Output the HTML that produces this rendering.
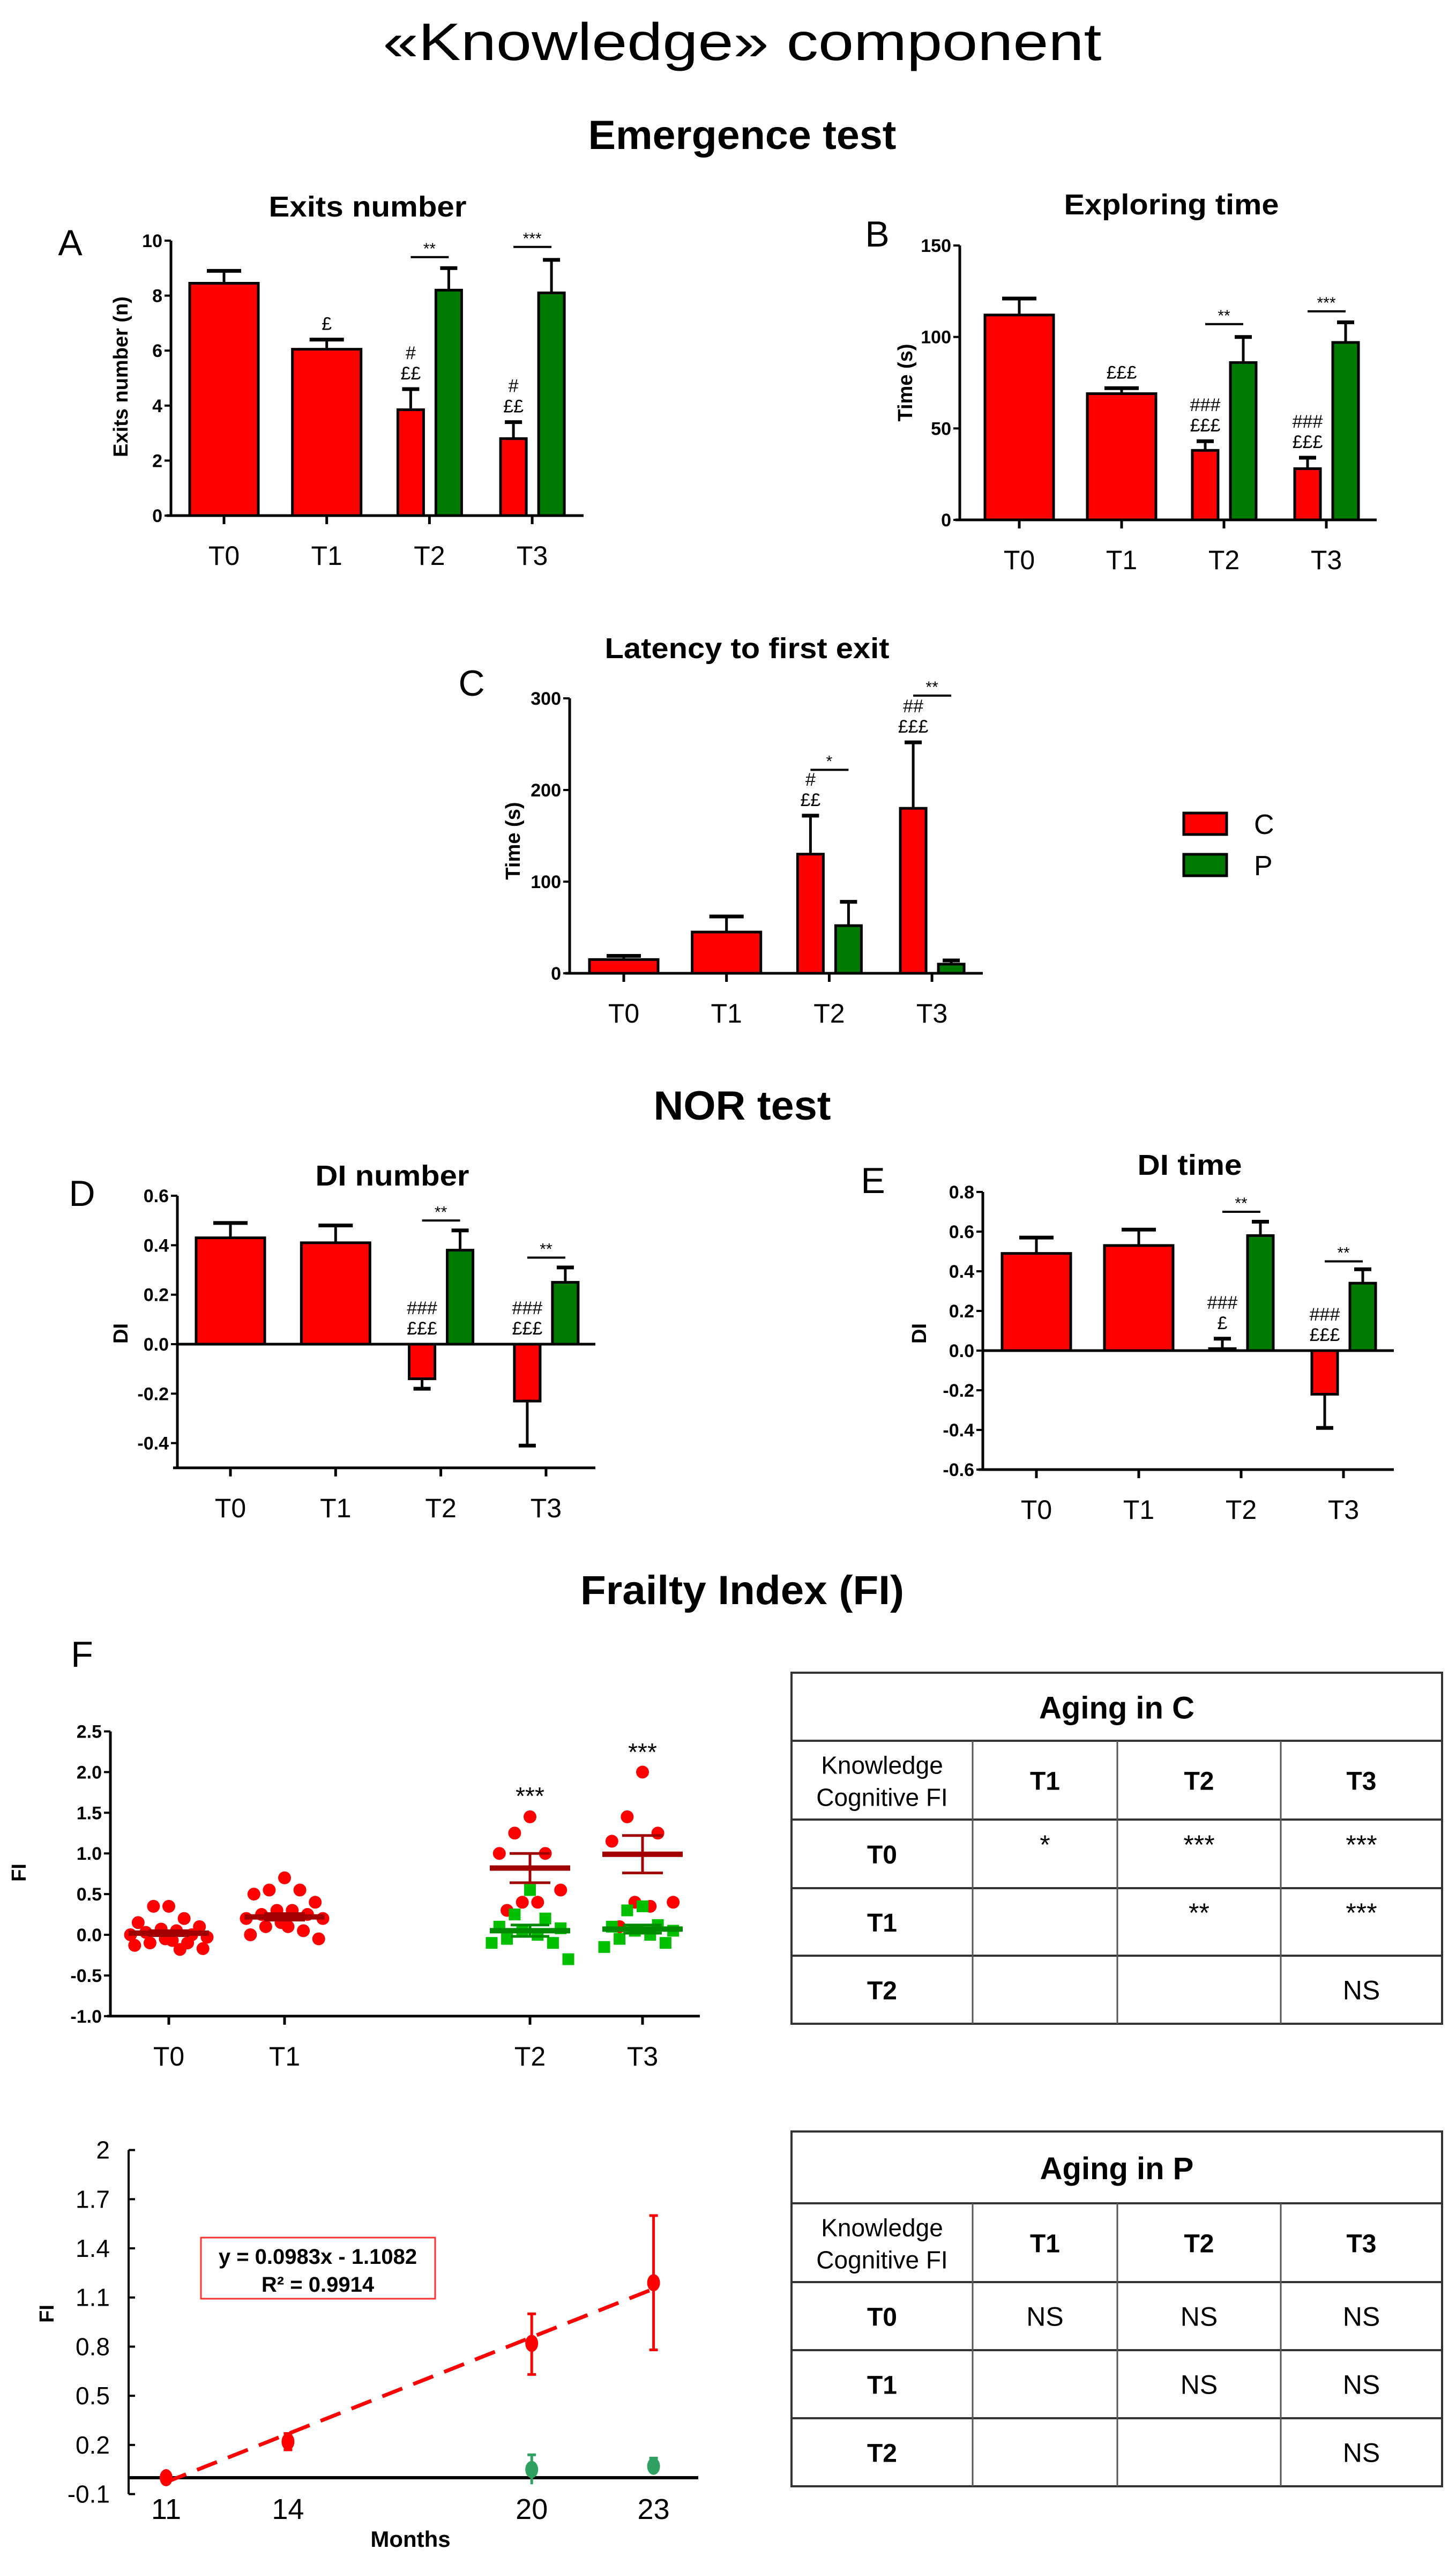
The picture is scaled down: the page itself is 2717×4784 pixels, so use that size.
<!DOCTYPE html>
<html><head><meta charset="utf-8"><title>Knowledge component</title>
<style>
html,body{margin:0;padding:0;background:#fff;}
svg{display:block;}
text{font-family:"Liberation Sans",sans-serif;}
</style></head>
<body>
<svg id="fig" xmlns="http://www.w3.org/2000/svg" width="2717" height="4784" viewBox="0 0 2717 4784">
<rect x="0" y="0" width="2717" height="4784" fill="#fff"/>
</svg>
<script>
// ---------- DATA ----------
const barCategories = ['T0','T1','T2','T3'];

const exitsC = [8.45, 6.05, 3.85, 2.8];
const exitsCErr = [0.45, 0.35, 0.75, 0.6];
const exitsP = [null, null, 8.2, 8.1];
const exitsPErr = [null, null, 0.8, 1.2];
const exitsTicks = [0, 2, 4, 6, 8, 10];
const exitsSigLevel = [null, null, 9.4, 9.77];
const exitsSigText = [null, null, '**', '***'];
const exitsAnnot = [[], ['£'], ['££', '#'], ['££', '#']];

const exploreC = [112, 69, 38, 28];
const exploreCErr = [9, 3, 5, 6];
const exploreP = [null, null, 86, 97];
const explorePErr = [null, null, 14, 11];
const exploreTicks = [0, 50, 100, 150];
const exploreSigLevel = [null, null, 107, 114];
const exploreSigText = [null, null, '**', '***'];
const exploreAnnot = [[], ['£££'], ['£££', '###'], ['£££', '###']];

const latencyC = [15, 45, 130, 180];
const latencyCErr = [4, 17, 42, 72];
const latencyP = [null, null, 52, 10];
const latencyPErr = [null, null, 26, 4];
const latencyTicks = [0, 100, 200, 300];
const latencySigLevel = [null, null, 222, 303];
const latencySigText = [null, null, '*', '**'];
const latencyAnnot = [[], [], ['££', '#'], ['£££', '##']];

const dinC = [0.43, 0.41, -0.14, -0.23];
const dinCErr = [0.06, 0.07, 0.04, 0.18];
const dinP = [null, null, 0.38, 0.25];
const dinPErr = [null, null, 0.08, 0.06];
const dinTicks = [-0.4, -0.2, 0.0, 0.2, 0.4, 0.6];
const dinSigLevel = [null, null, 0.5, 0.35];
const dinSigText = [null, null, '**', '**'];
const dinAnnot = [[], [], ['£££', '###'], ['£££', '###']];

const ditC = [0.49, 0.53, 0.01, -0.22];
const ditCErr = [0.08, 0.08, 0.05, 0.17];
const ditP = [null, null, 0.58, 0.34];
const ditPErr = [null, null, 0.07, 0.07];
const ditTicks = [-0.6, -0.4, -0.2, 0.0, 0.2, 0.4, 0.6, 0.8];
const ditSigLevel = [null, null, 0.70, 0.45];
const ditSigText = [null, null, '**', '**'];
const ditAnnot = [[], [], ['£', '###'], ['£££', '###']];

// scatter (FI)
const fiCategories = ['T0','T1','T2','T3'];
const fiPointsC = [
  [0.35,0.35,0.2,0.15,0.1,0.07,0.05,0.03,0,0,-0.03,-0.05,-0.07,-0.1,-0.1,-0.13,-0.17,-0.18],
  [0.7,0.55,0.55,0.5,0.4,0.3,0.3,0.25,0.25,0.2,0.2,0.15,0.1,0.1,0.05,0.0,-0.05],
  [1.45,1.25,1.0,1.0,0.55,0.4,0.4,0.3],
  [2.0,1.45,1.25,1.15,0.4,0.4,0.35,0.1]
];
const fiPointsP = [
  [],
  [],
  [0.55,0.25,0.2,0.1,0.08,0.05,0,-0.05,-0.1,-0.1,-0.3],
  [0.35,0.3,0.12,0.1,0.05,0.05,0,-0.05,-0.1,-0.15]
];
const fiMeanC = [0.02, 0.22, 0.82, 0.99];
const fiSemC = [0.03, 0.04, 0.18, 0.23];
const fiMeanP = [null, null, 0.05, 0.07];
const fiSemP = [null, null, 0.07, 0.05];
const fiTicks = [-1.0, -0.5, 0.0, 0.5, 1.0, 1.5, 2.0, 2.5];
const fiSigText = [null, null, '***', '***'];
const fiSigLevel = [null, null, 1.72, 2.26];

// line chart
const months = [11, 14, 20, 23];
const lineFiC = [0.0, 0.22, 0.82, 1.19];
const lineErrHiC = [0.03, 0.05, 0.18, 0.41];
const lineErrLoC = [0.03, 0.05, 0.19, 0.41];
const monthsP = [20, 23];
const lineFiP = [0.05, 0.07];
const lineErrP = [0.09, 0.05];
const lineTicks = [-0.1, 0.2, 0.5, 0.8, 1.1, 1.4, 1.7, 2];
const trendSlope = 0.0983;
const trendIntercept = -1.1082;

// tables
const tableCols = ['T1','T2','T3'];
const tableRows = ['T0','T1','T2'];
const agingC = [['*','***','***'],['','**','***'],['','','NS']];
const agingP = [['NS','NS','NS'],['','NS','NS'],['','','NS']];

// ---------- DRAWING ----------
const NS = 'http://www.w3.org/2000/svg';
const svg = document.getElementById('fig');
const RED = '#ff0000', GREEN = '#007a00';

function mk(tag, attrs, name, parent) {
  const el = document.createElementNS(NS, tag);
  for (const k in attrs) el.setAttribute(k, attrs[k]);
  
  
  (parent || svg).appendChild(el);
  return el;
}
function txt(x, y, s, size, name, opts, parent) {
  opts = opts || {};
  const a = {x: x, y: y, 'font-size': size, 'text-anchor': opts.anchor || 'middle', fill: opts.fill || '#000'};
  if (opts.bold) a['font-weight'] = 'bold';
  if (opts.len) { a.textLength = opts.len; a.lengthAdjust = 'spacingAndGlyphs'; }
  if (opts.family) a['font-family'] = opts.family;
  if (opts.transform) a.transform = opts.transform;
  const t = mk('text', a, name, parent);
  t.textContent = s;
  return t;
}
function line(x1, y1, x2, y2, w, name, parent, color, dash) {
  const a = {x1: x1, y1: y1, x2: x2, y2: y2, stroke: color || '#000', 'stroke-width': w};
  if (dash) a['stroke-dasharray'] = dash;
  return mk('line', a, name, parent);
}

// Titles
txt(1385, 112, '«Knowledge» component', 98, 'main-title', {len: 1341});
txt(1385, 278, 'Emergence test', 76, 'emergence-test-heading', {bold: true, len: 575});
txt(1385, 2089, 'NOR test', 76, 'nor-test-heading', {bold: true, len: 331});
txt(1385, 2993, 'Frailty Index (FI)', 76, 'frailty-index-heading', {bold: true, len: 604});

function barChart(cfg) {
  const g = mk('g', {}, cfg.name);
  const y = v => cfg.y0 - v * cfg.ppu;
  const xc = i => cfg.tick0 + i * cfg.step;
  const yMin = cfg.ticks[0], yMax = cfg.ticks[cfg.ticks.length - 1];
  const bottom = cfg.bottomVal !== undefined ? y(cfg.bottomVal) : y(yMin);
  txt(cfg.panelX, cfg.panelY, cfg.panel, 68, 'panel-label', {}, g);
  txt(cfg.titleX, cfg.titleY, cfg.title, 54, 'chart-title', {bold: true, len: cfg.titleLen}, g);
  txt(0, 0, cfg.ylabel, 38, 'y-axis-title', {bold: true, transform: 'translate(' + cfg.ylabelX + ',' + cfg.ylabelY + ') rotate(-90)'}, g);
  // bars
  for (let i = 0; i < barCategories.length; i++) {
    const c = xc(i);
    const hasP = cfg.p[i] !== null;
    const w = hasP ? 48 : 128;
    const cx = hasP ? c - 35 : c;
    const series = [[cfg.c[i], cfg.cErr[i], cx, RED, 'bar-c-' + barCategories[i]]];
    if (hasP) series.push([cfg.p[i], cfg.pErr[i], c + 36, GREEN, 'bar-p-' + barCategories[i]]);
    let cTop = null;
    series.forEach(s => {
      const v = s[0], e = s[1], bx = s[2];
      const top = Math.min(y(v), y(0)), h = Math.abs(y(v) - y(0));
      mk('rect', {x: bx - w / 2, y: top, width: w, height: Math.max(h, 1), fill: s[3], stroke: '#000', 'stroke-width': 5}, s[4], g);
      const dir = v >= 0 ? 1 : -1;
      const ye = y(v + dir * e);
      line(bx, y(v), bx, ye, 5, 'error-bar', g);
      line(bx - (hasP ? 16 : 32), ye, bx + (hasP ? 16 : 32), ye, 7, 'error-cap', g);
      if (s[3] === RED) cTop = Math.min(ye, y(0), y(v));
    });
    // annotations
    const ann = cfg.annot[i];
    for (let k = 0; k < ann.length; k++) {
      txt(cx, cTop - 18 - k * 38, ann[k], 34, 'annotation', {family: '"Liberation Serif",serif'}, g);
    }
    // significance
    if (cfg.sigLevel[i] !== null) {
      const sy = y(cfg.sigLevel[i]);
      line(c - 35, sy, c + 36, sy, 4, 'significance-line', g);
      txt(c, sy - 6, cfg.sigText[i], 30, 'significance-stars', {}, g);
    }
    // x tick + label
    line(c, bottom, c, bottom + 16, 5, 'x-tick', g);
    txt(c, bottom + 92, barCategories[i], 50, 'x-tick-label', {}, g);
  }
  // axes
  line(cfg.axisX, y(yMax), cfg.axisX, bottom, 5, 'y-axis', g);
  line(cfg.axisX - 8, bottom, cfg.axisEnd, bottom, 5, 'x-axis', g);
  if (cfg.bottomVal !== undefined || yMin < 0) line(cfg.axisX, y(0), cfg.axisEnd, y(0), 5, 'zero-line', g);
  cfg.ticks.forEach(t => {
    line(cfg.axisX - 12, y(t), cfg.axisX, y(t), 4, 'y-tick', g);
    txt(cfg.axisX - 16, y(t) + 12, cfg.fmt ? t.toFixed(1) : String(t), 34, 'y-tick-label', {anchor: 'end', bold: true}, g);
  });
}

barChart({name: 'exits-number-chart', panel: 'A', panelX: 131, panelY: 476, title: 'Exits number', titleX: 686, titleY: 404, titleLen: 369,
  ylabel: 'Exits number (n)', ylabelX: 238, ylabelY: 703,
  c: exitsC, cErr: exitsCErr, p: exitsP, pErr: exitsPErr, ticks: exitsTicks, sigLevel: exitsSigLevel, sigText: exitsSigText, annot: exitsAnnot,
  y0: 962, ppu: 51.3, tick0: 418, step: 191.7, axisX: 319, axisEnd: 1089});

barChart({name: 'exploring-time-chart', panel: 'B', panelX: 1637, panelY: 460, title: 'Exploring time', titleX: 2186, titleY: 400, titleLen: 401,
  ylabel: 'Time (s)', ylabelX: 1702, ylabelY: 714,
  c: exploreC, cErr: exploreCErr, p: exploreP, pErr: explorePErr, ticks: exploreTicks, sigLevel: exploreSigLevel, sigText: exploreSigText, annot: exploreAnnot,
  y0: 970, ppu: 3.413, tick0: 1902, step: 191, axisX: 1791, axisEnd: 2569});

barChart({name: 'latency-chart', panel: 'C', panelX: 880, panelY: 1298, title: 'Latency to first exit', titleX: 1394, titleY: 1228, titleLen: 531,
  ylabel: 'Time (s)', ylabelX: 970, ylabelY: 1569,
  c: latencyC, cErr: latencyCErr, p: latencyP, pErr: latencyPErr, ticks: latencyTicks, sigLevel: latencySigLevel, sigText: latencySigText, annot: latencyAnnot,
  y0: 1816, ppu: 1.71, tick0: 1164, step: 191.7, axisX: 1063, axisEnd: 1834});

barChart({name: 'di-number-chart', panel: 'D', panelX: 153, panelY: 2250, title: 'DI number', titleX: 732, titleY: 2212, titleLen: 287,
  ylabel: 'DI', ylabelX: 238, ylabelY: 2488, fmt: true, bottomVal: -0.5,
  c: dinC, cErr: dinCErr, p: dinP, pErr: dinPErr, ticks: dinTicks, sigLevel: dinSigLevel, sigText: dinSigText, annot: dinAnnot,
  y0: 2508, ppu: 461.5, tick0: 430, step: 196.3, axisX: 331, axisEnd: 1111});

barChart({name: 'di-time-chart', panel: 'E', panelX: 1629, panelY: 2226, title: 'DI time', titleX: 2220, titleY: 2192, titleLen: 195,
  ylabel: 'DI', ylabelX: 1728, ylabelY: 2488, fmt: true,
  c: ditC, cErr: ditCErr, p: ditP, pErr: ditPErr, ticks: ditTicks, sigLevel: ditSigLevel, sigText: ditSigText, annot: ditAnnot,
  y0: 2520, ppu: 370, tick0: 1934, step: 191, axisX: 1834, axisEnd: 2601});

// Legend
const lg = mk('g', {}, 'legend');
mk('rect', {x: 2209, y: 1517, width: 80, height: 40, fill: RED, stroke: '#000', 'stroke-width': 5}, 'legend-swatch-c', lg);
txt(2340, 1556, 'C', 52, 'legend-label-c', {anchor: 'start'}, lg);
mk('rect', {x: 2209, y: 1594, width: 80, height: 40, fill: GREEN, stroke: '#000', 'stroke-width': 5}, 'legend-swatch-p', lg);
txt(2340, 1633, 'P', 52, 'legend-label-p', {anchor: 'start'}, lg);

// ---------- FI scatter ----------
(function () {
  const g = mk('g', {}, 'fi-scatter-chart');
  txt(153, 3110, 'F', 68, 'panel-label', {}, g);
  const y0 = 3610, ppu = 151.8;
  const y = v => y0 - v * ppu;
  const fiX = [315, 531, 989, 1199];
  const jit = [0, -22, 22, -44, 44, -11, 11, -33, 33, -55, 55, -5, 5, -27, 27, -49, 49, 16];
  line(206, y(2.5), 206, y(-1.0), 5, 'y-axis', g);
  line(200, y(-1.0), 1306, y(-1.0), 5, 'x-axis', g);
  fiTicks.forEach(t => {
    line(194, y(t), 206, y(t), 4, 'y-tick', g);
    txt(190, y(t) + 12, t.toFixed(1), 34, 'y-tick-label', {anchor: 'end', bold: true}, g);
  });
  txt(0, 0, 'FI', 38, 'y-axis-title', {bold: true, transform: 'translate(48,3494) rotate(-90)'}, g);
  for (let i = 0; i < fiCategories.length; i++) {
    const cx = fiX[i];
    line(cx, y(-1.0), cx, y(-1.0) + 16, 5, 'x-tick', g);
    txt(cx, y(-1.0) + 92, fiCategories[i], 50, 'x-tick-label', {}, g);
    fiPointsC[i].forEach((v, k) => {
      mk('circle', {cx: cx + jit[k % jit.length] * 1.3, cy: y(v), r: 12, fill: RED}, 'point-c', g);
    });
    fiPointsP[i].forEach((v, k) => {
      mk('rect', {x: cx + jit[k % jit.length] * 1.3 - 11, y: y(v) - 11, width: 22, height: 22, fill: '#00c000'}, 'point-p', g);
    });
    if (fiMeanP[i] !== null) {
      line(cx - 75, y(fiMeanP[i]), cx + 75, y(fiMeanP[i]), 10, 'mean-line-p', g, '#008a00');
      line(cx, y(fiMeanP[i] + fiSemP[i]), cx, y(fiMeanP[i] - fiSemP[i]), 5, 'sem-bar-p', g, '#008a00');
      line(cx - 36, y(fiMeanP[i] + fiSemP[i]), cx + 36, y(fiMeanP[i] + fiSemP[i]), 5, 'sem-cap-p', g, '#008a00');
      line(cx - 36, y(fiMeanP[i] - fiSemP[i]), cx + 36, y(fiMeanP[i] - fiSemP[i]), 5, 'sem-cap-p', g, '#008a00');
    }
    const mc = '#a00000';
    line(cx - 75, y(fiMeanC[i]), cx + 75, y(fiMeanC[i]), 10, 'mean-line-c', g, mc);
    line(cx, y(fiMeanC[i] + fiSemC[i]), cx, y(fiMeanC[i] - fiSemC[i]), 5, 'sem-bar-c', g, mc);
    line(cx - 38, y(fiMeanC[i] + fiSemC[i]), cx + 38, y(fiMeanC[i] + fiSemC[i]), 5, 'sem-cap-c', g, mc);
    line(cx - 38, y(fiMeanC[i] - fiSemC[i]), cx + 38, y(fiMeanC[i] - fiSemC[i]), 5, 'sem-cap-c', g, mc);
    if (fiSigText[i]) txt(cx, y(fiSigLevel[i]) + 18, fiSigText[i], 46, 'significance-stars', {}, g);
  }
})();

// ---------- FI vs months line chart ----------
(function () {
  const g = mk('g', {}, 'fi-months-chart');
  const yZ = 4623, ppu = 305.7;
  const y = v => yZ - v * ppu;
  const x = m => 310 + (m - 11) * 75.8;
  line(240, y(2), 240, y(-0.1), 4, 'y-axis', g);
  line(240, y(0), 1303, y(0), 6, 'x-axis', g);
  lineTicks.forEach(t => {
    line(240, y(t), 252, y(t), 4, 'y-tick', g);
    txt(205, y(t) + 16, String(t), 46, 'y-tick-label', {anchor: 'end'}, g);
  });
  months.forEach(m => txt(x(m), 4700, String(m), 54, 'x-tick-label', {}, g));
  txt(766, 4752, 'Months', 42, 'x-axis-title', {bold: true}, g);
  txt(0, 0, 'FI', 38, 'y-axis-title', {bold: true, transform: 'translate(100,4317) rotate(-90)'}, g);
  // trend line
  line(x(11), y(trendSlope * 11 + trendIntercept), x(23), y(trendSlope * 23 + trendIntercept), 7, 'trend-line', g, RED, '40,22');
  months.forEach((m, i) => {
    line(x(m), y(lineFiC[i] + lineErrHiC[i]), x(m), y(lineFiC[i] - lineErrLoC[i]), 5, 'error-bar-c', g, RED);
    line(x(m) - 8, y(lineFiC[i] + lineErrHiC[i]), x(m) + 8, y(lineFiC[i] + lineErrHiC[i]), 5, 'error-cap-c', g, RED);
    line(x(m) - 8, y(lineFiC[i] - lineErrLoC[i]), x(m) + 8, y(lineFiC[i] - lineErrLoC[i]), 5, 'error-cap-c', g, RED);
    mk('ellipse', {cx: x(m), cy: y(lineFiC[i]), rx: 12, ry: 16, fill: RED}, 'point-c', g);
  });
  monthsP.forEach((m, i) => {
    line(x(m), y(lineFiP[i] + lineErrP[i]), x(m), y(lineFiP[i] - lineErrP[i]), 5, 'error-bar-p', g, '#2ea060');
    line(x(m) - 8, y(lineFiP[i] + lineErrP[i]), x(m) + 8, y(lineFiP[i] + lineErrP[i]), 5, 'error-cap-p', g, '#2ea060');
    mk('ellipse', {cx: x(m), cy: y(lineFiP[i]), rx: 12, ry: 16, fill: '#2ea060'}, 'point-p', g);
  });
  mk('rect', {x: 375, y: 4175, width: 437, height: 114, fill: '#fff', stroke: '#ff3030', 'stroke-width': 3}, 'equation-box', g);
  txt(593, 4224, 'y = 0.0983x - 1.1082', 40, 'equation-text', {bold: true}, g);
  txt(593, 4276, 'R² = 0.9914', 40, 'r-squared-text', {bold: true}, g);
})();

// ---------- Tables ----------
function table(name, title, top, rowsY, data) {
  const g = mk('g', {}, name);
  const xs = [1477, 1815, 2085, 2390, 2691];
  mk('rect', {x: 1477, y: top, width: 1214, height: rowsY[rowsY.length - 1] - top, fill: 'none', stroke: '#333', 'stroke-width': 4}, 'table-border', g);
  rowsY.slice(0, -1).forEach(ry => line(1477, ry, 2691, ry, 4, 'row-divider', g, '#333'));
  for (let k = 1; k < 4; k++) line(xs[k], rowsY[0], xs[k], rowsY[rowsY.length - 1], 3, 'column-divider', g, '#555');
  txt(2084, (top + rowsY[0]) / 2 + 22, title, 58, 'table-title', {bold: true}, g);
  const hy = (rowsY[0] + rowsY[1]) / 2;
  txt(1646, hy - 12, 'Knowledge', 46, 'header-knowledge', {}, g);
  txt(1646, hy + 48, 'Cognitive FI', 46, 'header-cognitive-fi', {}, g);
  tableCols.forEach((c, k) => txt((xs[k + 1] + xs[k + 2]) / 2, hy + 18, c, 48, 'column-header', {bold: true}, g));
  tableRows.forEach((r, i) => {
    const cy = (rowsY[i + 1] + rowsY[i + 2]) / 2;
    txt(1646, cy + 18, r, 48, 'row-header', {bold: true}, g);
    data[i].forEach((v, k) => {
      if (v) txt((xs[k + 1] + xs[k + 2]) / 2, cy + (v.indexOf('*') >= 0 ? 0 : 18), v, 50, 'table-cell', {}, g);
    });
  });
}
table('aging-in-c-table', 'Aging in C', 3121, [3248, 3395, 3523, 3649, 3776], agingC);
table('aging-in-p-table', 'Aging in P', 3977, [4111, 4258, 4385, 4512, 4639], agingP);
</script>
</body></html>
